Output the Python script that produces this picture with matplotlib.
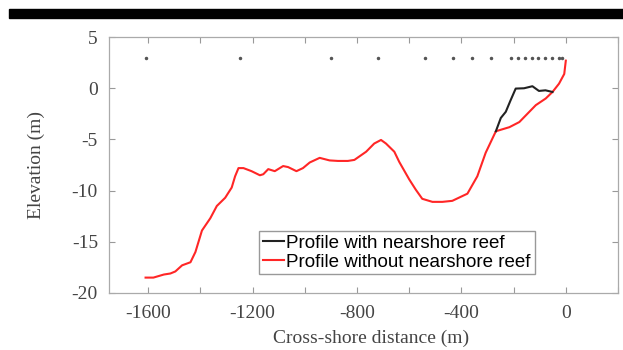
import matplotlib
matplotlib.use("Agg")
import matplotlib.pyplot as plt
from matplotlib.patches import Rectangle

plt.rcParams["axes.unicode_minus"] = False

# profile without the nearshore reef (red)
x_noreef = [-1610, -1580, -1540, -1515, -1496, -1470, -1438, -1419, -1394, -1362,
            -1337, -1305, -1280, -1267, -1254, -1235, -1204, -1172, -1159, -1140,
            -1115, -1083, -1064, -1032, -1007, -981, -943, -905, -873, -835,
            -810, -765, -734, -708, -689, -657, -638, -600, -575, -550,
            -511, -473, -435, -377, -339, -307, -268, -216, -178, -115,
            -77, -51, -26, -6, 0]
y_noreef = [-18.5, -18.5, -18.2, -18.1, -17.9, -17.3, -17.0, -16.0, -13.9, -12.7,
            -11.5, -10.7, -9.7, -8.6, -7.8, -7.8, -8.1, -8.5, -8.4, -7.9,
            -8.1, -7.6, -7.7, -8.1, -7.8, -7.25, -6.8, -7.05, -7.1, -7.1,
            -7.0, -6.2, -5.4, -5.05, -5.4, -6.2, -7.2, -8.9, -9.9, -10.8,
            -11.1, -11.1, -11.0, -10.3, -8.6, -6.3, -4.2, -3.8, -3.3, -1.65,
            -1.0, -0.36, 0.45, 1.4, 2.7]

# profile with the nearshore reef (black), only where it differs
x_reef = [-268, -249, -230, -212, -192, -160, -128, -103, -78, -51]
y_reef = [-4.2, -2.9, -2.3, -1.2, -0.03, 0.0, 0.2, -0.26, -0.2, -0.36]

# output locations along the profile
gauge_x = [-1610, -1250, -900, -720, -539, -432, -359, -286, -211,
           -182, -156, -130, -105, -79, -54, -28, -13]
gauge_y = [3.0] * len(gauge_x)

fig = plt.figure(figsize=(6.23, 3.5), dpi=100)
ax = fig.add_axes([0.175, 0.163, 0.817, 0.731])

# black bar across the top of the image
fig.patches.append(Rectangle((9 / 623, 1 - 18 / 350), 1, 9 / 350,
                             transform=fig.transFigure, color="black"))

ax.plot(gauge_x, gauge_y, ".", color="#555555", markersize=3)
l_red, = ax.plot(x_noreef, y_noreef, color="#ff2626", lw=1.5)
l_blk, = ax.plot(x_reef, y_reef, color="#222222", lw=1.5)

ax.set_xlim(-1750, 200)
ax.set_ylim(-20, 5)
ax.set_xticks(range(-1600, 201, 200))
ax.set_xticklabels(["-1600", "", "-1200", "", "-800", "", "-400", "", "0", ""])
ax.set_yticks([-20, -15, -10, -5, 0, 5])

serif = ["Liberation Serif", "DejaVu Serif"]
for lab in ax.get_xticklabels() + ax.get_yticklabels():
    lab.set_family(serif)
    lab.set_fontsize(14)
    lab.set_color("#444444")
ax.tick_params(direction="in", length=4, width=0.8, color="#999999",
               top=True, right=True)
ax.tick_params(axis="x", pad=9)
ax.tick_params(axis="y", pad=8)
for s in ax.spines.values():
    s.set_color("#aaaaaa")
    s.set_linewidth(0.9)

ax.set_xlabel("Cross-shore distance (m)", family=serif, fontsize=14,
              color="#444444")
ax.xaxis.set_label_coords(0.515, -0.145)
ax.set_ylabel("Elevation (m)", family=serif, fontsize=14,
              color="#444444", labelpad=19)

leg = ax.legend([l_blk, l_red],
                ["Profile with nearshore reef", "Profile without nearshore reef"],
                loc="lower left", bbox_to_anchor=(0.295, 0.073), borderaxespad=0,
                prop={"family": ["Liberation Sans", "DejaVu Sans"], "size": 13.5},
                fancybox=False, framealpha=1, edgecolor="#999999",
                handlelength=1.15, handletextpad=0.1, labelspacing=0.1,
                borderpad=0.2)
leg.get_frame().set_linewidth(1.0)

plt.savefig("out.png", dpi=100)
